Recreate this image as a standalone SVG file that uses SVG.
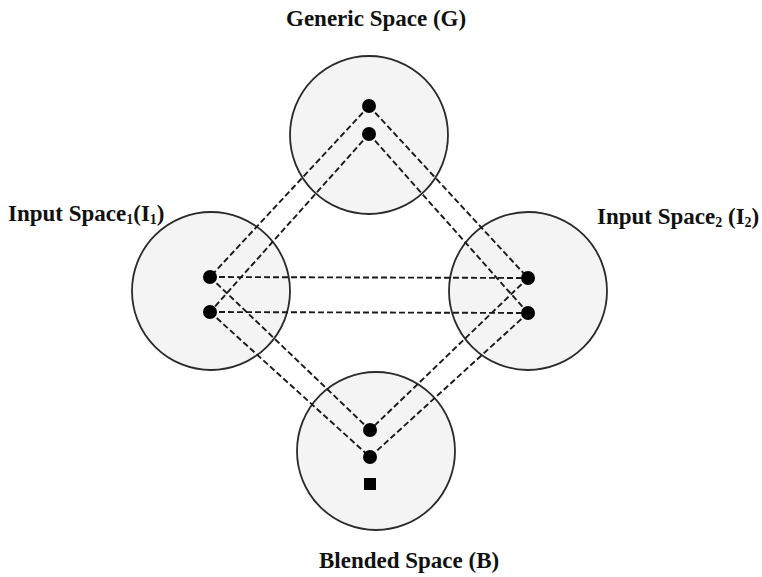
<svg xmlns="http://www.w3.org/2000/svg" width="762" height="577" viewBox="0 0 762 577">
  <style>
    .space { fill: #f4f4f4; stroke: #2a2a2a; stroke-width: 1.8; }
    .pt { fill: #000; }
    .link { stroke: #1a1a1a; stroke-width: 1.9; stroke-dasharray: 6 3; fill: none; }
    .label { font-family: "Liberation Serif", "Times New Roman", serif; font-weight: bold; font-size: 23px; fill: #111; }
    .sub { font-size: 14px; }
  </style>
  <rect width="762" height="577" fill="#fff"/>

  <!-- Mental spaces -->
  <g id="generic">
    <circle class="space" cx="369" cy="135" r="79"/>
    <text class="label" x="286" y="26">Generic Space (G)</text>
  </g>
  <g id="input1">
    <circle class="space" cx="211" cy="291" r="79"/>
    <text class="label" x="8" y="221">Input Space<tspan class="sub" dy="3">1</tspan><tspan dy="-3">(I</tspan><tspan class="sub" dy="3">1</tspan><tspan dy="-3">)</tspan></text>
  </g>
  <g id="input2">
    <circle class="space" cx="528" cy="291" r="79"/>
    <text class="label" x="597" y="224">Input Space<tspan class="sub" dy="3">2</tspan><tspan dy="-3"> (I</tspan><tspan class="sub" dy="3">2</tspan><tspan dy="-3">)</tspan></text>
  </g>
  <g id="blended">
    <circle class="space" cx="376" cy="451" r="79"/>
    <text class="label" x="319" y="568">Blended Space (B)</text>
  </g>

  <!-- Cross-space mappings -->
  <g id="connectors">
    <line class="link" x1="369" y1="106" x2="210" y2="277"/>
    <line class="link" x1="369" y1="134" x2="210" y2="312"/>
    <line class="link" x1="369" y1="106" x2="528" y2="278"/>
    <line class="link" x1="369" y1="134" x2="528" y2="313"/>
    <line class="link" x1="210" y1="277" x2="528" y2="278"/>
    <line class="link" x1="210" y1="312" x2="528" y2="313"/>
    <line class="link" x1="210" y1="277" x2="370" y2="430"/>
    <line class="link" x1="210" y1="312" x2="370" y2="457"/>
    <line class="link" x1="528" y1="278" x2="370" y2="430"/>
    <line class="link" x1="528" y1="313" x2="370" y2="457"/>
  </g>

  <!-- Elements within each space -->
  <g id="elements">
    <circle class="pt" cx="369" cy="106" r="7"/>
    <circle class="pt" cx="369" cy="134" r="7"/>
    <circle class="pt" cx="210" cy="277" r="7"/>
    <circle class="pt" cx="210" cy="312" r="7"/>
    <circle class="pt" cx="528" cy="278" r="7"/>
    <circle class="pt" cx="528" cy="313" r="7"/>
    <circle class="pt" cx="370" cy="430" r="7"/>
    <circle class="pt" cx="370" cy="457" r="7"/>
    <rect class="pt" x="364" y="478" width="12" height="12"/>
  </g>
</svg>
